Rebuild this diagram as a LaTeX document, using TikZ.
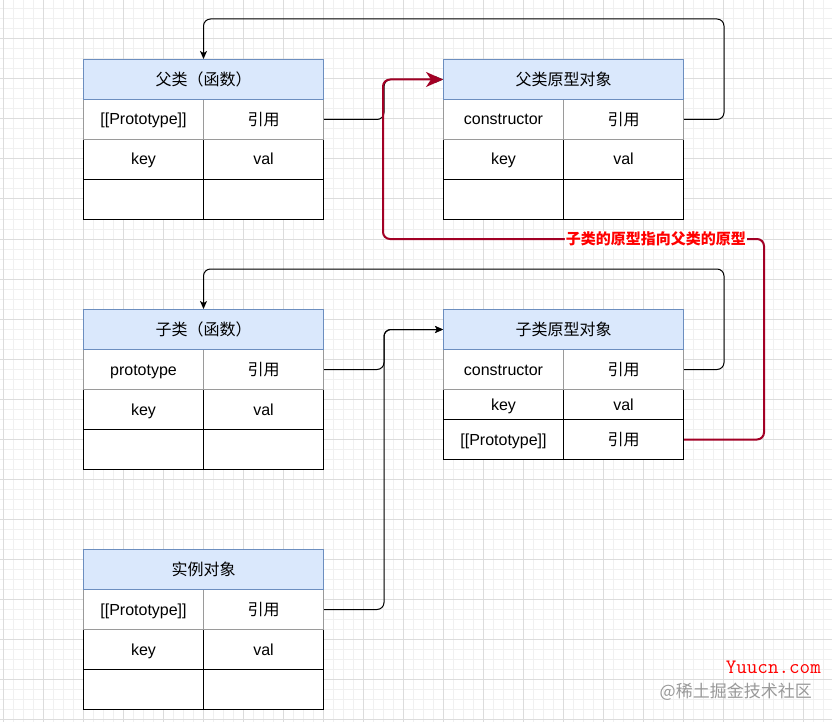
\documentclass[tikz,border=0pt]{standalone}
\usepackage{fontspec}
\setmainfont{Liberation Sans}
\newfontfamily\cjk{Noto Sans CJK SC}
\usetikzlibrary{arrows.meta,calc}
\definecolor{hdrfill}{HTML}{DAE8FC}
\definecolor{hdrline}{HTML}{6C8EBF}
\definecolor{crimson}{HTML}{A20025}
\definecolor{gridminor}{HTML}{F0F0F0}
\definecolor{gridmajor}{HTML}{DCDCDC}
\definecolor{rowgray}{HTML}{9A9A9A}
\begin{document}
\begin{tikzpicture}[x=1pt,y=-1pt,
  font=\fontsize{16}{19}\selectfont,
  hdr/.style={draw=hdrline, fill=hdrfill, line width=1pt, minimum width=240pt, minimum height=40pt,
    anchor=north west, inner sep=0pt, text height=14pt, text depth=2.5pt, font=\fontsize{16}{19}\selectfont\cjk},
  cell/.style={draw, fill=white, line width=1pt, minimum width=120pt, minimum height=40pt,
    anchor=north west, inner sep=0pt, text height=14pt, text depth=3pt},
  shortcell/.style={cell, minimum height=30pt},
  grayrow/.style={cell, draw=rowgray},
  cjkt/.style={font=\fontsize{16}{19}\selectfont\cjk, text height=14pt, text depth=2.5pt},
  link/.style={draw, line width=1pt, rounded corners=7pt, -{Stealth[length=8pt,width=7pt,inset=2pt]}},
  redlink/.style={draw=crimson, line width=2pt, rounded corners=7pt, -{Stealth[length=17pt,width=15pt,inset=5pt]}},
  lbl/.style={fill=white, text=red, inner sep=1pt, font=\fontsize{15}{18}\selectfont\cjk\bfseries}
]
\useasboundingbox (0,0) rectangle (832,722);
\fill[white] (0,0) rectangle (832,722);
% background grid
\foreach \x in {3,13,...,832} \draw[gridminor, line width=1pt] (\x,0) -- (\x,722);
\foreach \y in {9,19,...,722} \draw[gridminor, line width=1pt] (0,\y) -- (832,\y);
\foreach \x in {3,43,...,832} \draw[gridmajor, line width=1pt] (\x,0) -- (\x,722);
\foreach \y in {39,79,...,722} \draw[gridmajor, line width=1pt] (0,\y) -- (832,\y);

% Box A: 父类（函数）
\node[cell] (A3k) at (83,179) {};
\node[cell] (A3v) at (203,179) {};
\node[cell] (A2k) at (83,139) {key};
\node[cell] (A2v) at (203,139) {val};
\node[grayrow] (A1k) at (83,99) {[[Prototype]]};
\node[grayrow,cjkt] (A1v) at (203,99) {引用};
\node[hdr] (Ah) at (83,59) {父类（函数）};

% Box B: 父类原型对象
\node[cell] (B3k) at (443,179) {};
\node[cell] (B3v) at (563,179) {};
\node[cell] (B2k) at (443,139) {key};
\node[cell] (B2v) at (563,139) {val};
\node[grayrow] (B1k) at (443,99) {constructor};
\node[grayrow,cjkt] (B1v) at (563,99) {引用};
\node[hdr] (Bh) at (443,59) {父类原型对象};

% Box C: 子类（函数）
\node[cell] (C3k) at (83,429) {};
\node[cell] (C3v) at (203,429) {};
\node[cell] (C2k) at (83,389) {key};
\node[cell] (C2v) at (203,389) {val};
\node[grayrow] (C1k) at (83,349) {prototype};
\node[grayrow,cjkt] (C1v) at (203,349) {引用};
\node[hdr] (Ch) at (83,309) {子类（函数）};

% Box D: 子类原型对象
\node[cell] (D3k) at (443,419) {[[Prototype]]};
\node[cell,cjkt] (D3v) at (563,419) {引用};
\node[shortcell] (D2k) at (443,389) {key};
\node[shortcell] (D2v) at (563,389) {val};
\node[grayrow] (D1k) at (443,349) {constructor};
\node[grayrow,cjkt] (D1v) at (563,349) {引用};
\node[hdr] (Dh) at (443,309) {子类原型对象};

% Box E: 实例对象
\node[cell] (E3k) at (83,669) {};
\node[cell] (E3v) at (203,669) {};
\node[cell] (E2k) at (83,629) {key};
\node[cell] (E2v) at (203,629) {val};
\node[grayrow] (E1k) at (83,589) {[[Prototype]]};
\node[grayrow,cjkt] (E1v) at (203,589) {引用};
\node[hdr] (Eh) at (83,549) {实例对象};

% connectors
\path[link] (A1v.east) -- ++(60,0) |- (Bh.west);
\path[link] (B1v.east) -- ++(40,0) |- ($(Ah.north)+(0,-40)$) -- (Ah.north);
\path[link] (C1v.east) -- ++(60,0) |- (Dh.west);
\path[link] (D1v.east) -- ++(40,0) |- ($(Ch.north)+(0,-40)$) -- (Ch.north);
\path[link] (E1v.east) -- ++(60,0) |- (Dh.west);
\coordinate (redturn) at (383,239);
\path[redlink] (D3v.east) -- ++(80,0) |- (redturn) node[pos=0.642, lbl] (redlbl) {子类的原型指向父类的原型} |- (Bh.west);

% watermarks
\node[text=red, font=\ttfamily\fontsize{20.5}{22}\selectfont\addfontfeatures{FakeBold=1.5}, anchor=east, inner sep=0pt] (wm1) at (821,667) {Yuucn.com};
\node[text=gray!80, font=\fontsize{17}{20}\selectfont\cjk, anchor=east, inner sep=0pt] (wm2) at (812,692) {@稀土掘金技术社区};
\end{tikzpicture}
\end{document}
